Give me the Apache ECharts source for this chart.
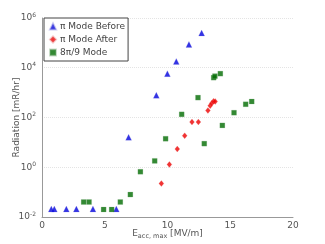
<!DOCTYPE html>
<html><head><meta charset="utf-8">
<script src="https://cdn.jsdelivr.net/npm/echarts@6/dist/echarts.min.js"></script>
<style>html,body{margin:0;padding:0;background:#fff}#c{width:325px;height:244px}</style>
</head><body><div id="c"></div>
<script>
const seriesNames = ['\u03c0 Mode Before', '\u03c0 Mode After', '8\u03c0/9 Mode'];
const beforeX = [0.74, 0.98, 1.94, 2.74, 4.06, 5.92, 6.9, 9.11, 9.99, 10.7, 11.71, 12.72];
const beforeY = [0.021, 0.021, 0.021, 0.021, 0.021, 0.021, 16, 780, 5800, 18000, 87000, 250000];
const afterX = [9.51, 10.15, 10.78, 11.37, 11.95, 12.46, 13.22, 13.4, 13.53, 13.67, 13.8];
const afterY = [0.22, 1.3, 5.4, 18.5, 66, 66, 190, 300, 370, 450, 440];
const modeX = [3.32, 3.75, 4.91, 5.55, 6.24, 7.04, 7.84, 8.98, 9.85, 11.13, 12.43, 12.93, 13.68, 13.78, 14.21, 14.37, 15.3, 16.23, 16.71];
const modeY = [0.04, 0.04, 0.02, 0.02, 0.04, 0.08, 0.66, 1.8, 14, 134, 630, 8.9, 4000, 4600, 5800, 48, 156, 340, 440];
const xTicks = [0, 5, 10, 15, 20];
const yTickExps = [-2, 0, 2, 4, 6];

const FONT = 'DejaVu Sans';
const TXT = '#555';
const pairs = (xs, ys) => xs.map((x, i) => [x, ys[i]]);

const chart = echarts.init(document.getElementById('c'), null, {renderer: 'canvas'});
chart.setOption({
  animation: false,
  textStyle: {fontFamily: FONT},
  grid: {left: 42, right: 32, top: 18, bottom: 27, containLabel: false, outerBoundsMode: 'none'},
  legend: {
    orient: 'vertical', left: 44, top: 18,
    padding: [4, 3, 4, 5], itemGap: 4,
    itemWidth: 6, itemHeight: 6,
    borderColor: '#444', borderWidth: 1,
    backgroundColor: '#fff',
    textStyle: {fontFamily: FONT, fontSize: 9, color: '#444', padding: [0, 0, 0, -1]},
    data: seriesNames
  },
  xAxis: {
    type: 'value', min: xTicks[0], max: xTicks[xTicks.length - 1], interval: 5,
    axisLine: {lineStyle: {color: '#999'}},
    axisTick: {show: false},
    splitLine: {show: false},
    axisLabel: {color: TXT, fontSize: 9, margin: 4},
    name: '{a|E}{b|acc, max}{a| [MV/m]}',
    nameLocation: 'middle', nameGap: 11, nameMoveOverlap: false,
    nameTextStyle: {
      rich: {
        a: {fontFamily: FONT, fontSize: 9, color: TXT},
        b: {fontFamily: FONT, fontSize: 6.5, color: TXT, padding: [5, 0, 0, 0]}
      }
    }
  },
  yAxis: {
    type: 'log', logBase: 10,
    min: Math.pow(10, yTickExps[0]), max: Math.pow(10, yTickExps[yTickExps.length - 1]),
    interval: 2,
    axisLine: {show: true, lineStyle: {color: '#999'}},
    axisTick: {show: false},
    minorTick: {show: false},
    splitLine: {show: true, lineStyle: {color: '#e4e4e4', type: 'dotted', width: 1}},
    axisLabel: {
      margin: 6,
      formatter: v => '{b|10}{s|' + Math.round(Math.log10(v)) + '}',
      rich: {
        b: {fontFamily: FONT, fontSize: 9, color: TXT},
        s: {fontFamily: FONT, fontSize: 6, color: TXT, padding: [0, 0, 6, 0]}
      }
    },
    name: 'Radiation [mR/hr]',
    nameLocation: 'middle', nameGap: 21, nameMoveOverlap: false,
    nameTextStyle: {fontFamily: FONT, fontSize: 9, color: TXT}
  },
  series: [
    {name: seriesNames[0], type: 'scatter', symbol: 'triangle', symbolSize: 6,
     itemStyle: {color: '#0000dd', borderColor: 'rgba(120,120,220,0.5)', borderWidth: 0.5},
     data: pairs(beforeX, beforeY)},
    {name: seriesNames[1], type: 'scatter', symbol: 'diamond', symbolSize: [5, 6],
     itemStyle: {color: '#ee0000', borderColor: 'rgba(230,120,120,0.5)', borderWidth: 0.5},
     data: pairs(afterX, afterY)},
    {name: seriesNames[2], type: 'scatter', symbol: 'rect', symbolSize: 5,
     itemStyle: {color: '#006c00', borderColor: 'rgba(120,170,120,0.5)', borderWidth: 0.5},
     data: pairs(modeX, modeY)}
  ]
});
</script></body></html>
